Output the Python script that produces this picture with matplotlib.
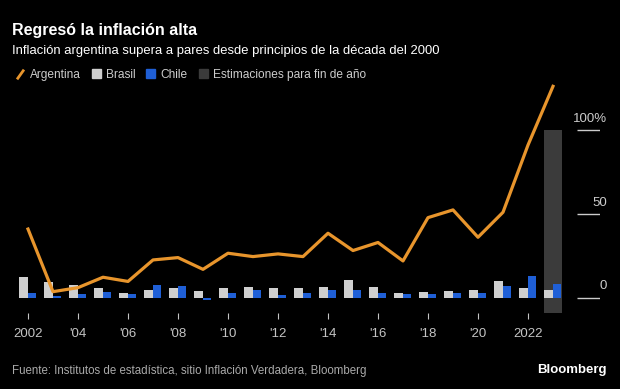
import matplotlib
matplotlib.use("Agg")
import matplotlib.pyplot as plt
from matplotlib.lines import Line2D
from matplotlib.patches import Patch

plt.rcParams['font.family'] = ['Liberation Sans', 'DejaVu Sans']

years = list(range(2002, 2024))
argentina = [41.0, 3.7, 6.1, 12.3, 9.8, 22.6, 24.0, 17.0, 26.6, 24.6, 26.2, 24.6,
             38.5, 28.2, 33.0, 22.0, 47.8, 52.4, 36.1, 51.0, 91.0, 126.0]
brasil = [12.6, 9.5, 7.6, 5.7, 3.1, 4.5, 5.9, 4.3, 5.9, 6.5, 5.8, 5.9,
          6.4, 10.7, 6.3, 2.9, 3.7, 4.3, 4.5, 10.1, 5.8, 4.9]
chile = [2.8, 1.1, 2.4, 3.7, 2.6, 7.8, 7.1, -1.4, 3.0, 4.4, 1.5, 3.0,
         4.6, 4.4, 2.7, 2.3, 2.6, 3.0, 3.0, 7.2, 12.8, 8.0]
est_year = [2023]
est_low, est_high = -9, 100
xticks = list(range(2002, 2023, 2))
xlabels = ["2002"] + ["'%02d" % (y % 100) for y in xticks[1:-1]] + ["2022"]
yticks = [0, 50, 100]
ylabels = ["0", "50", "100%"]

orange = "#e8952c"
grey = "#cfcfcf"
blue = "#1f5fd6"
dark = "#3b3b3b"

fig = plt.figure(figsize=(6.2, 3.89), dpi=100, facecolor="black")
ax = fig.add_axes([10 / 620, 1 - 313 / 389, 590 / 620, (313 - 79.6) / 389])
ax.set_facecolor("black")

w = 0.34
ax.bar(est_year, [est_high - est_low], bottom=est_low, width=0.7, color=dark, zorder=1)
ax.bar([y - w / 2 for y in years], brasil, width=w, color=grey, zorder=2)
ax.bar([y + w / 2 for y in years], chile, width=w, color=blue, zorder=2)
ax.plot(years, argentina, color=orange, lw=2.3, zorder=3)

ax.set_xlim(2001.28, 2024.88)
ax.set_ylim(-9, 130)

for s in ax.spines.values():
    s.set_visible(False)
ax.set_yticks([])
ax.set_xticks(xticks)
ax.set_xticklabels(xlabels)
ax.tick_params(axis="x", colors="#c4c4c4", labelsize=9.5, length=4, width=0.8, pad=7)

tr = ax.get_yaxis_transform()
ax.hlines(yticks, 0.961, 1.0, transform=tr, color="#cccccc", lw=1.0)
for yv, lab in zip(yticks, ylabels):
    ax.text(1.012, yv + 5, lab, transform=tr, ha="right", va="baseline",
            color="#cccccc", fontsize=9.5)

fig.text(12 / 620, 1 - 35 / 389, "Regresó la inflación alta", color="white",
         fontsize=11.5, fontweight="bold", va="baseline")
fig.text(12 / 620, 1 - 54 / 389, "Inflación argentina supera a pares desde principios de la década del 2000",
         color="white", fontsize=9.4, va="baseline")

slash = Line2D([], [], color=orange, marker=[(-1, -1.4), (1, 1.4)], linestyle="None",
               markersize=7, markeredgewidth=2)
handles = [slash, Patch(color=grey), Patch(color=blue), Patch(color=dark)]
labels = ["Argentina", "Brasil", "Chile", "Estimaciones para fin de año"]
fig.legend(handles, labels, loc="center left", bbox_to_anchor=(5 / 620, 1 - 75 / 389),
           ncol=4, frameon=False, fontsize=8.6, labelcolor="#cccccc",
           handlelength=0.75, handleheight=0.75, handletextpad=0.45, columnspacing=0.9)

fig.text(12 / 620, 1 - 374 / 389,
         "Fuente: Institutos de estadística, sitio Inflación Verdadera, Bloomberg",
         color="#aaaaaa", fontsize=8.3, va="baseline")
fig.text(607 / 620, 1 - 373 / 389, "Bloomberg", color="white", fontsize=9.5,
         fontweight="bold", ha="right", va="baseline")

fig.savefig("out.png", dpi=100, facecolor="black")
